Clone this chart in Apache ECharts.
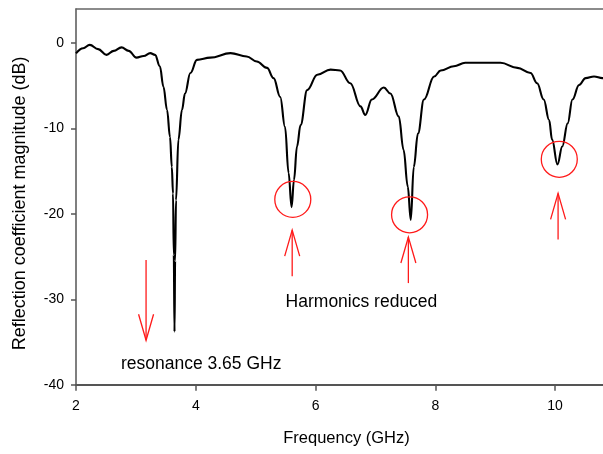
<!DOCTYPE html>
<html>
<head>
<meta charset="utf-8">
<script src="https://cdn.jsdelivr.net/npm/echarts@6/dist/echarts.min.js"></script>
<style>html,body{margin:0;padding:0;background:#fff;}#c{width:603px;height:454px;}</style>
</head>
<body>
<div id="c"></div>
<script>
// Frequency (GHz) and reflection coefficient magnitude (dB)
const freq = [2.00, 2.12, 2.23, 2.37, 2.51, 2.63, 2.76, 2.88, 3.01, 3.13, 3.24, 3.32, 3.40, 3.46, 3.52, 3.57, 3.60, 3.62, 3.633, 3.645, 3.655, 3.67, 3.71, 3.77, 3.82, 3.91, 4.02, 4.24, 4.58, 4.85, 5.02, 5.19, 5.30, 5.41, 5.49, 5.55, 5.60, 5.64, 5.69, 5.75, 5.86, 6.03, 6.25, 6.41, 6.58, 6.75, 6.83, 6.94, 7.14, 7.25, 7.39, 7.47, 7.54, 7.59, 7.64, 7.71, 7.81, 7.98, 8.09, 8.31, 8.50, 9.09, 9.37, 9.59, 9.70, 9.81, 9.90, 9.95, 10.04, 10.12, 10.21, 10.29, 10.40, 10.51, 10.65, 10.79, 10.84];
const s11 = [-1.2, -0.6, -0.2, -0.7, -1.37, -0.9, -0.5, -0.9, -1.7, -1.5, -1.17, -1.37, -2.7, -5.1, -7.8, -11, -14.5, -17.6, -24.8, -33.8, -25.5, -18.4, -11.3, -7.8, -5.9, -3.5, -1.96, -1.7, -1.17, -1.57, -2.15, -2.9, -4.1, -6.3, -9.8, -15.2, -19.2, -16.0, -12.1, -9.6, -5.5, -3.7, -3.1, -3.2, -4.7, -7.4, -8.4, -6.6, -5.2, -5.9, -8.6, -12.5, -16.8, -20.7, -14.5, -10.6, -6.6, -3.9, -3.2, -2.7, -2.3, -2.3, -2.9, -3.5, -4.7, -6.6, -9.0, -11.3, -14.2, -12.1, -9.4, -6.6, -4.9, -4.1, -3.9, -4.1, -4.0];

const xTicks = [2, 4, 6, 8, 10];
const yTicks = [-40, -30, -20, -10, 0];

// Annotations (data units)
const circleX = [5.62, 7.57, 10.07];
const circleY = [-18.3, -20.1, -13.6];
const upArrowX = [5.61, 7.55, 10.05];
const upArrowTip = [-21.9, -22.7, -17.6];
const upArrowTail = [-27.3, -28.1, -23.0];
const downArrowX = [3.17];
const downArrowTop = [-25.4];
const downArrowTip = [-34.8];
const labelTexts = ['Harmonics reduced', 'resonance 3.65 GHz'];
const labelX = [5.50, 2.75];
const labelY = [-30.3, -37.6];

const chart = echarts.init(document.getElementById('c'), null, {renderer: 'canvas'});
const FONT = 'Liberation Sans, Arial, sans-serif';
const axisColor = '#555';

const option = {
  animation: false,
  backgroundColor: '#fff',
  grid: {left: 76, right: 0, top: 9, bottom: 69.3, containLabel: false},
  xAxis: [{
    type: 'value', min: 2, max: 10.8, interval: 2,
    name: 'Frequency (GHz)', nameLocation: 'middle', nameGap: 45,
    nameTextStyle: {fontFamily: FONT, fontSize: 16.5, color: '#000', padding: [0, 0, 0, 14]},
    axisLine: {show: true, onZero: false, lineStyle: {color: axisColor, width: 2}},
    axisTick: {show: true, length: 6, inside: false, customValues: xTicks, lineStyle: {color: axisColor, width: 1.5}},
    axisLabel: {fontFamily: FONT, fontSize: 14, color: '#000', margin: 14, customValues: xTicks},
    splitLine: {show: false}
  }, {
    type: 'value', position: 'top', min: 2, max: 10.8,
    axisLine: {show: true, onZero: false, lineStyle: {color: '#666', width: 1.5}},
    axisTick: {show: false}, axisLabel: {show: false}, splitLine: {show: false}
  }],
  yAxis: [{
    type: 'value', min: -40, max: 4, interval: 10,
    name: 'Reflection coefficient magnitude (dB)', nameLocation: 'middle', nameGap: 47,
    nameTextStyle: {fontFamily: FONT, fontSize: 18, color: '#000', padding: [0, 13, 0, 0]},
    axisLine: {show: true, onZero: false, lineStyle: {color: axisColor, width: 1.5}},
    axisTick: {show: true, length: 5, inside: false, customValues: yTicks, lineStyle: {color: axisColor, width: 1.5}},
    axisLabel: {fontFamily: FONT, fontSize: 14, color: '#000', margin: 12, customValues: yTicks},
    splitLine: {show: false}
  }],
  series: [{
    type: 'line',
    data: freq.map((f, i) => [f, s11[i]]),
    showSymbol: false,
    smooth: 0.4,
    smoothMonotone: 'x',
    clip: true,
    lineStyle: {color: '#000', width: 2.1}
  }]
};
chart.setOption(option);

function px(x, y) { return chart.convertToPixel({xAxisIndex: 0, yAxisIndex: 0}, [x, y]); }
const red = '#ff1a1a';
const graphics = [];
const headLen = 26, headHalf = 7.5;
circleX.forEach((cx, i) => {
  const p = px(cx, circleY[i]);
  graphics.push({type: 'circle', shape: {cx: p[0], cy: p[1], r: 18}, style: {fill: 'none', stroke: red, lineWidth: 1.3}, z: 100});
});
upArrowX.forEach((ax, i) => {
  const tip = px(ax, upArrowTip[i]);
  const tail = px(ax, upArrowTail[i]);
  graphics.push({type: 'line', shape: {x1: tail[0], y1: tail[1], x2: tip[0], y2: tip[1]}, style: {stroke: red, lineWidth: 1.3}, z: 100});
  graphics.push({type: 'polyline', shape: {points: [[tip[0] - headHalf, tip[1] + headLen], [tip[0], tip[1]], [tip[0] + headHalf, tip[1] + headLen]]}, style: {stroke: red, fill: 'none', lineWidth: 1.3}, z: 100});
});
downArrowX.forEach((ax, i) => {
  const top = px(ax, downArrowTop[i]);
  const tip = px(ax, downArrowTip[i]);
  graphics.push({type: 'line', shape: {x1: top[0], y1: top[1], x2: tip[0], y2: tip[1]}, style: {stroke: red, lineWidth: 1.3}, z: 100});
  graphics.push({type: 'polyline', shape: {points: [[tip[0] - headHalf, tip[1] - headLen], [tip[0], tip[1]], [tip[0] + headHalf, tip[1] - headLen]]}, style: {stroke: red, fill: 'none', lineWidth: 1.3}, z: 100});
});
labelTexts.forEach((t, i) => {
  const p = px(labelX[i], labelY[i]);
  graphics.push({type: 'text', x: p[0], y: p[1], style: {text: t, fontFamily: FONT, fontSize: 17.5, fill: '#000', textAlign: 'left', textVerticalAlign: 'middle'}, z: 100});
});
chart.setOption({graphic: graphics});
</script>
</body>
</html>
